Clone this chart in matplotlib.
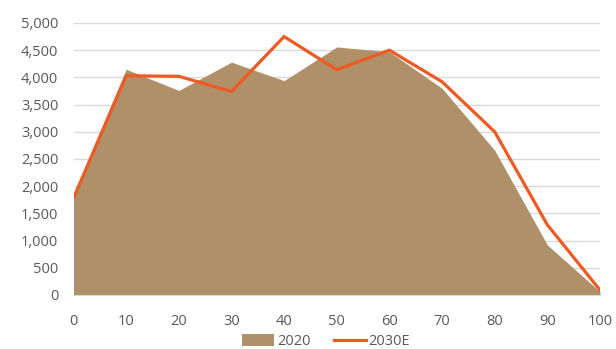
import matplotlib
matplotlib.use("Agg")
import matplotlib.pyplot as plt
import numpy as np
from matplotlib.ticker import FuncFormatter

plt.rcParams["font.family"] = ["Open Sans", "DejaVu Sans"]

ages = [0, 10, 20, 30, 40, 50, 60, 70, 80, 90, 100]
pop_2020 = [1850, 4150, 3760, 4280, 3940, 4560, 4470, 3800, 2660, 920, 60]
pop_2030e = [1780, 4030, 4020, 3740, 4750, 4140, 4500, 3920, 3000, 1290, 90]

area_color = "#B09068"
line_color = "#EE5A24"
text_color = "#595959"

fig = plt.figure(figsize=(6.16, 3.49), dpi=100)
ax = fig.add_axes([73.5 / 616, 1 - 295 / 349, (600 - 73.5) / 616, (295 - 23) / 349])

ax.fill_between(ages, pop_2020, 0, color=area_color, linewidth=0, label="2020", zorder=2)
ax.plot(ages, pop_2030e, color=line_color, linewidth=2.3, label="2030E", zorder=3,
        solid_joinstyle="miter")

ax.set_xlim(0, 100)
ax.set_ylim(0, 5000)
ax.set_xticks(ages)
ax.set_yticks(np.arange(0, 5001, 500))
ax.yaxis.set_major_formatter(FuncFormatter(lambda v, p: f"{int(v):,}"))

ax.grid(axis="y", color="#D9D9D9", linewidth=1)
ax.set_axisbelow(True)
for side in ("top", "right", "left"):
    ax.spines[side].set_visible(False)
ax.spines["bottom"].set_color("#D9D9D9")
ax.tick_params(length=0, colors=text_color, labelsize=10.5)
ax.tick_params(axis="x", pad=14)
ax.tick_params(axis="y", pad=11)

ax.legend(loc="center", bbox_to_anchor=(326 / 616, 1 - 341.5 / 349),
          bbox_transform=fig.transFigure, ncol=2, frameon=False,
          fontsize=10.5, labelcolor=text_color, handlelength=2.2, handleheight=0.9,
          columnspacing=1.6, handletextpad=0.2, borderpad=0)

fig.savefig("out.png", dpi=100)
